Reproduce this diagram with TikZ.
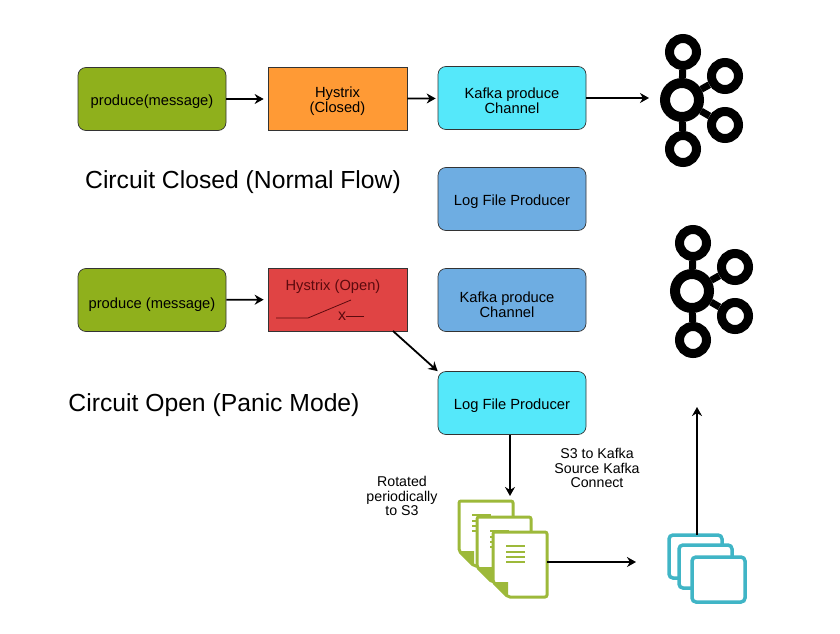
\documentclass[tikz,border=0pt]{standalone}
\usepackage{fontspec}
\setmainfont{Liberation Sans}
\usetikzlibrary{arrows.meta}
\definecolor{cgreen}{HTML}{8FB01C}
\definecolor{corange}{HTML}{FF9A35}
\definecolor{ccyan}{HTML}{55E8FA}
\definecolor{cblue}{HTML}{6EADE2}
\definecolor{cred}{HTML}{E04444}
\definecolor{cdark}{HTML}{5C0A0E}
\definecolor{cdoc}{HTML}{9DB93A}
\definecolor{cframe}{HTML}{40B5C6}
\newcommand{\low}[2][2.5pt]{\raisebox{-#1}[\height][\depth]{#2}}

\begin{document}
\begin{tikzpicture}[x=1pt,y=-1pt]
    \tikzstyle{box}=[draw=black!80,line width=0.7pt,rounded corners=8pt,minimum width=148pt,minimum height=63pt,inner sep=0pt,align=center,font=\fontsize{14.7}{15}\selectfont]
    \tikzstyle{hys}=[draw=black!80,line width=0.7pt,minimum width=139pt,minimum height=63pt,inner sep=0pt,align=center,font=\fontsize{14.7}{15}\selectfont]
    \tikzstyle{arrow}=[draw=black,line width=1.8pt,-{Stealth[length=9pt,width=10pt]}]
    \tikzstyle{title}=[font=\fontsize{24.7}{26}\selectfont]
    \tikzstyle{note}=[align=center,font=\fontsize{14.2}{14.5}\selectfont]
    \tikzstyle{ring}=[circle,draw=black,fill=white,inner sep=0pt]
    \tikzstyle{hub}=[ring,line width=10pt,minimum size=34pt]
    \tikzstyle{leaf}=[ring,line width=9pt,minimum size=27pt]
    \tikzstyle{spoke}=[draw=black,line width=7pt]
    \tikzstyle{doc}=[draw=cdoc,fill=white,line width=3pt,rounded corners=2pt]
    \tikzstyle{fold}=[fill=cdoc]
    \tikzstyle{rule}=[draw=cdoc,line width=1.2pt]
    \tikzstyle{frame}=[draw=cframe,fill=white,line width=3.5pt,rounded corners=4pt]

    \useasboundingbox (0,0) rectangle (840,634);

    \node[box,fill=cgreen]  (prodA) at (152, 99)  {\low{produce(message)}};
    \node[hys,fill=corange] (hysA)  at (337.5,99) {\low{Hystrix}\\\low{(Closed)}};
    \node[box,fill=ccyan]   (kafA)  at (512, 98)  {\low{Kafka produce}\\\low{Channel}};
    \node[box,fill=cblue]   (logA)  at (512,199)  {\low{Log File Producer}};

    \node[box,fill=cgreen]  (prodB) at (152,300)  {\low[4.5pt]{produce (message)}};
    \node[hys,fill=cred]    (hysB)  at (337.5,299.5) {};
    \node[box,fill=cblue]   (kafB)  at (512,300)  {\low[4.5pt]{\hspace{-10pt}Kafka produce}\\\low[4.5pt]{\hspace{-10pt}Channel}};
    \node[box,fill=ccyan]   (logB)  at (512,403)  {\low{Log File Producer}};

    \node[title] (titleA) at (243,182) {Circuit Closed (Normal Flow)};
    \node[title] (titleB) at (214,405) {Circuit Open (Panic Mode)};
    \node[note]  (rot)    at (402,496) {Rotated\\periodically\\to S3};
    \node[note]  (conn)   at (597,468) {S3 to Kafka\\Source Kafka\\Connect};

    % switch in the open box
    \node[text=cdark,font=\fontsize{14.7}{15}\selectfont] (hysT) at (333,287) {Hystrix (Open)};
    \node[text=cdark,inner sep=0pt,font=\fontsize{16}{16}\selectfont] (hysX) at (342,316) {x};
    \coordinate (swA) at (276,318);
    \coordinate (swB) at (308,318);
    \coordinate (swC) at (351,300);
    \coordinate (swD) at (364,316);
    \draw[cdark,line width=0.8pt] (swA) -- (swB) -- (swC);
    \draw[cdark,line width=0.8pt] (swD) -- (hysX);

    % kafka logos
    \foreach \n/\dx/\dy in {A/0/0,B/10/191}{
        \node[hub]  (hub\n) at (682+\dx,100+\dy) {};
        \node[leaf] (top\n) at (683+\dx, 52+\dy) {};
        \node[leaf] (up\n)  at (725+\dx, 76+\dy) {};
        \node[leaf] (low\n) at (725+\dx,125+\dy) {};
        \node[leaf] (bot\n) at (683+\dx,149+\dy) {};
        \path[spoke] (hub\n) -- (top\n);
        \path[spoke] (hub\n) -- (up\n);
        \path[spoke] (hub\n) -- (low\n);
        \path[spoke] (hub\n) -- (bot\n);
    }

    % rotated files
    \foreach \x/\y in {459/501,477/517,493/532}{
        \draw[doc] (\x,\y) -- (\x+54,\y) -- (\x+54,\y+65) -- (\x+15,\y+65) -- (\x,\y+50) -- cycle;
        \fill[fold] (\x,\y+50) -- (\x+15,\y+50) -- (\x+15,\y+65) -- cycle;
        \foreach \r in {14,20,25,30}{
            \path[rule] (\x+13,\y+\r) -- (\x+32,\y+\r);
        }
    }

    % connect frames
    \draw[frame] (669,535) rectangle (722,578);
    \draw[frame] (679,545) rectangle (732,588);
    \draw[frame] (692,557) rectangle (745,602);

    \coordinate (hysOut) at (393,331);
    \coordinate (docIn)  at (510,496);
    \coordinate (docOut) at (547,562);
    \coordinate (frIn)   at (636,562);
    \coordinate (frOut)  at (697,535);
    \coordinate (frUp)   at (697,407);

    \path[arrow,shorten >=4pt] (prodA) -- (hysA);
    \path[arrow,shorten >=2pt] (hysA) -- (kafA);
    \path[arrow,shorten >=11pt] (kafA.east) -- (kafA.east -| hubA.west);
    \path[arrow,shorten >=4pt] (prodB) -- (hysB);
    \path[arrow] (hysOut) -- (logB.north west);
    \path[arrow] (logB.south -| docIn) -- (docIn);
    \path[arrow] (docOut) -- (frIn);
    \path[arrow] (frOut) -- (frUp);
\end{tikzpicture}
\end{document}
